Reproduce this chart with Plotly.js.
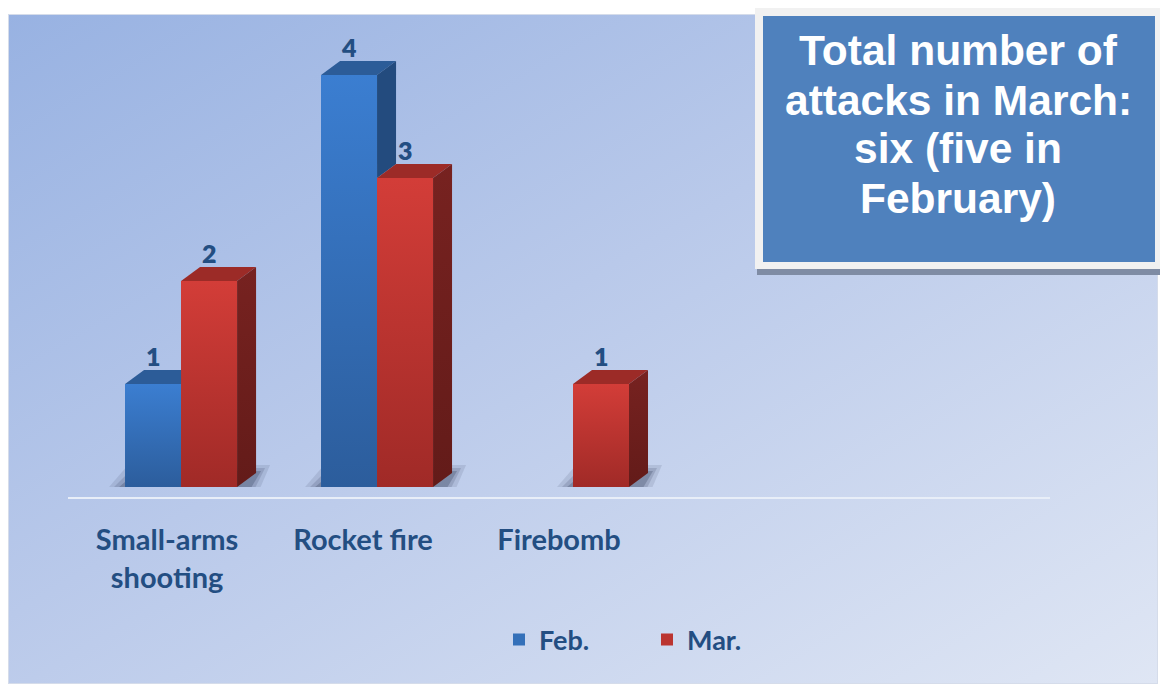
<!DOCTYPE html>
<html>
<head>
<meta charset="utf-8">
<script src="https://cdn.plot.ly/plotly-3.0.1.min.js"></script>
<style>
  html, body { margin: 0; padding: 0; background: #ffffff; }
  #bg { position: absolute; left: 8px; top: 14px; width: 1150px; height: 670px;
        background: linear-gradient(to bottom right, #98b2e2 0%, #b9c9ea 45%, #dfe6f4 100%);
        border: 1px solid #d5dcea; box-sizing: border-box; }
  #chart { position: absolute; left: 0; top: 0; width: 1160px; height: 688px; }
</style>
</head>
<body>
<div id="bg"></div>
<div id="chart"></div>
<script>
// ---- data ----
const categories = ['Small-arms<br>shooting', 'Rocket fire', 'Firebomb'];
const febValues = [1, 4, 0];
const marValues = [2, 3, 1];
const seriesNames = ['Feb.', 'Mar.'];
const titleLines = ['Total number of', 'attacks in March:', 'six (five in', 'February)'];

// ---- geometry (pixel frame of the plot area) ----
const L = 68, R = 1050, T = 40, B = 497;
const xRange = [-0.577, 4.434];
const yRange = [-0.097, 4.34];
const PXX = (xRange[1] - xRange[0]) / (R - L);   // category units per pixel
const PXY = (yRange[1] - yRange[0]) / (B - T);   // value units per pixel
const W = 56 * PXX;       // bar front width
const DX = 19 * PXX;      // 3D depth in x
const DY = 14 * PXY;      // 3D depth in y
const px = x => (x - L) / (R - L);
const py = y => (B - y) / (B - T);

const col = {
  feb: { front: '#3470b9', hi: '#3b7ed1', lo: '#2c5d9c', top: '#2c5c98', side: '#234b7e', sideLo: '#1f4370' },
  mar: { front: '#bb3430', hi: '#d33d38', lo: '#a02a27', top: '#9c2b27', side: '#772220', sideLo: '#631b19' }
};

const xs = categories.map((c, i) => i);
const traces = [];

// front faces (the bars)
traces.push({ type: 'bar', name: seriesNames[0], x: xs, y: febValues, width: W, offset: -W,
  marker: { color: col.feb.front, line: { width: 0 } }, hoverinfo: 'y' });
traces.push({ type: 'bar', name: seriesNames[1], x: xs, y: marValues, width: W, offset: 0,
  marker: { color: col.mar.front, line: { width: 0 } }, hoverinfo: 'y' });

function poly(pts, color, extra) {
  const t = Object.assign({ type: 'scatter', mode: 'lines', fill: 'toself', fillcolor: color,
    line: { width: 0, color: color }, x: pts.map(p => p[0]), y: pts.map(p => p[1]),
    showlegend: false, hoverinfo: 'skip' }, extra || {});
  traces.push(t);
}
function grad(pts, v0, v1, lo, hi) {
  poly(pts, hi, { fillgradient: { type: 'vertical', start: v0, stop: v1, colorscale: [[0, lo], [1, hi]] } });
}

// vertical shading on the front faces
xs.forEach(i => {
  const f = febValues[i], m = marValues[i];
  if (f > 0) grad([[i - W, 0], [i, 0], [i, f], [i - W, f], [i - W, 0]], 0, f, col.feb.lo, col.feb.hi);
  if (m > 0) grad([[i, 0], [i + W, 0], [i + W, m], [i, m], [i, 0]], 0, m, col.mar.lo, col.mar.hi);
});

// Feb top and side faces (clipped against the Mar box beside them)
xs.forEach(i => {
  const v = febValues[i], m = marValues[i];
  if (v <= 0) return;
  const xl = i - W, xr = i;
  if (m >= v) {
    poly([[xl, v], [xr, v], [xr, v + DY], [xl + DX, v + DY], [xl, v]], col.feb.top);
  } else {
    poly([[xl, v], [xr, v], [xr + DX, v + DY], [xl + DX, v + DY], [xl, v]], col.feb.top);
    poly([[xr, m], [xr + DX, m + DY], [xr + DX, v + DY], [xr, v], [xr, m]], col.feb.side);
  }
});
// Mar top and side faces
xs.forEach(i => {
  const v = marValues[i];
  if (v <= 0) return;
  const xl = i, xr = i + W;
  poly([[xl, v], [xr, v], [xr + DX, v + DY], [xl + DX, v + DY], [xl, v]], col.mar.top);
  grad([[xr, 0], [xr + DX, DY], [xr + DX, v + DY], [xr, v], [xr, 0]], 0, v + DY, col.mar.sideLo, col.mar.side);
});

// soft floor shadows (below the bars)
const shapes = [];
xs.forEach(i => {
  const xl = febValues[i] > 0 ? i - W : i;
  const xr = marValues[i] > 0 ? i + W : i;
  [[16, 14, 8, 0.11], [11, 9, 5, 0.15], [6, 5, 2, 0.22]].forEach(([a, b, h, op]) => {
    const x0 = xl - a * PXX, x1 = xr + DX + b * PXX, yt = DY + h * PXY;
    shapes.push({ type: 'path', xref: 'x', yref: 'y', layer: 'below', line: { width: 0 },
      fillcolor: 'rgba(25,35,65,' + op + ')',
      path: `M${x0},0 L${x1 - DX * 0.5},0 L${x1},${yt} L${x0 + DX},${yt} Z` });
  });
});

// title box
shapes.push({ type: 'rect', xref: 'paper', yref: 'paper', layer: 'above', line: { width: 0 },
  fillcolor: '#7f8ca4', x0: px(757), x1: px(1160), y0: py(275), y1: py(262) });
shapes.push({ type: 'rect', xref: 'paper', yref: 'paper', layer: 'above', line: { width: 0 },
  fillcolor: '#f1f1f1', x0: px(755), x1: px(1160), y0: py(269), y1: py(8) });
shapes.push({ type: 'rect', xref: 'paper', yref: 'paper', layer: 'above', line: { width: 0 },
  fillcolor: '#4f81bd', x0: px(763), x1: px(1155), y0: py(262), y1: py(16) });

const annotations = [];
const lblFont = { family: 'Lato, "Open Sans", sans-serif', size: 25, color: '#234e82', weight: 800 };
xs.forEach(i => {
  if (febValues[i] > 0) annotations.push({ x: i - W / 2, y: febValues[i], xref: 'x', yref: 'y',
    text: String(febValues[i]), showarrow: false, yshift: 28, font: lblFont });
  if (marValues[i] > 0) annotations.push({ x: i + W / 2, y: marValues[i], xref: 'x', yref: 'y',
    text: String(marValues[i]), showarrow: false, yshift: 28, font: lblFont });
});
const titleTop = 51, titleStep = 49;
titleLines.forEach((line, k) => {
  annotations.push({ xref: 'paper', yref: 'paper', x: px(958), y: py(titleTop + k * titleStep),
    xanchor: 'center', yanchor: 'middle', text: line, showarrow: false,
    font: { family: '"Liberation Sans", Arial, sans-serif', size: 42.5, color: '#ffffff', weight: 700 } });
});

const layout = {
  width: 1160, height: 688,
  margin: { l: L, r: 1160 - R, t: T, b: 688 - B, pad: 0 },
  paper_bgcolor: 'rgba(0,0,0,0)', plot_bgcolor: 'rgba(0,0,0,0)',
  barmode: 'overlay',
  showlegend: true,
  legend: { orientation: 'h', x: px(647), y: py(640), xanchor: 'center', yanchor: 'middle',
    font: { family: 'Lato, "Open Sans", sans-serif', size: 27, color: '#234e82', weight: 700 },
    bgcolor: 'rgba(0,0,0,0)', entrywidth: 103 },
  xaxis: { range: xRange, tickvals: xs, ticktext: categories, ticks: '', showgrid: false, zeroline: false,
    showline: true, linecolor: '#e8eef8', linewidth: 2, ticklabelstandoff: 16, ticklabelshift: -14,
    tickfont: { family: 'Lato, "Open Sans", sans-serif', size: 29, color: '#234e82', weight: 700 },
    fixedrange: true },
  yaxis: { range: yRange, showgrid: false, zeroline: false, showline: false, showticklabels: false,
    ticks: '', fixedrange: true },
  shapes: shapes,
  annotations: annotations
};

Plotly.newPlot('chart', traces, layout, { displayModeBar: false, staticPlot: true });
</script>
</body>
</html>
